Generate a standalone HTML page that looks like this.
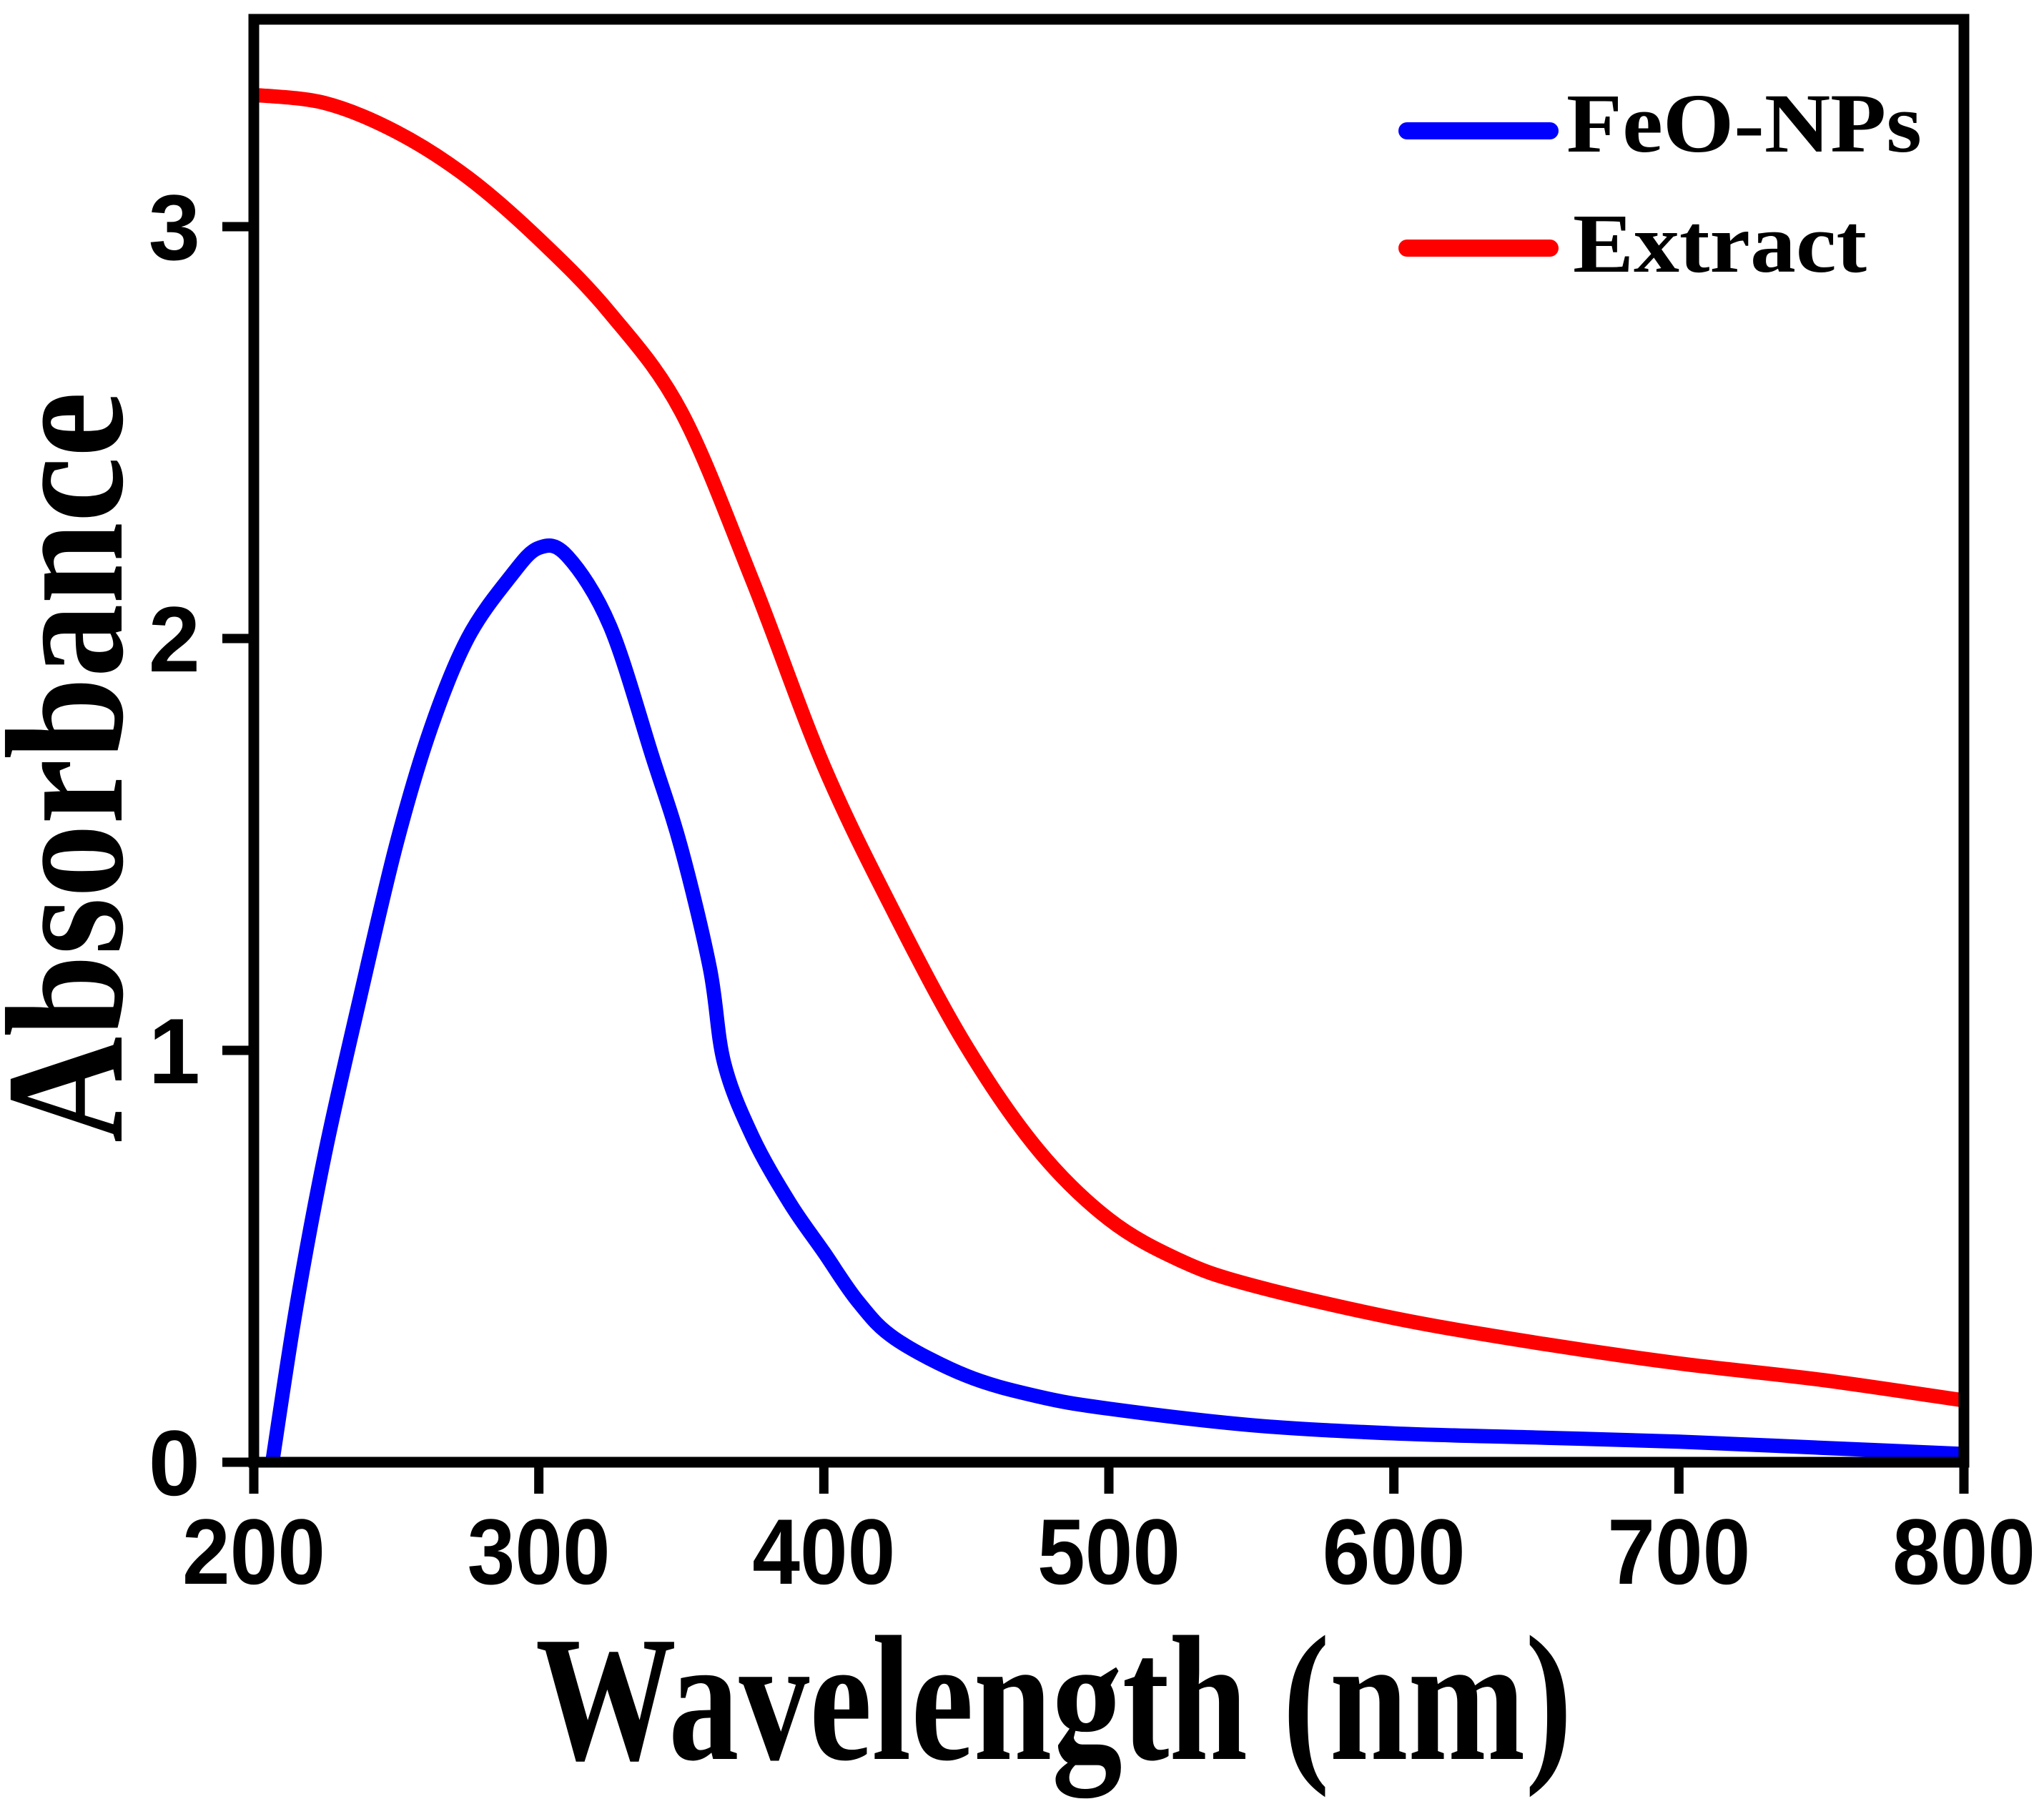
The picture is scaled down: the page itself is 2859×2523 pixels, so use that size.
<!DOCTYPE html>
<html><head><meta charset="utf-8"><style>
html,body{margin:0;padding:0;background:#fff;}
svg{display:block;}
.serif{font-family:"Liberation Serif","Times New Roman",serif;font-weight:bold;}
.sans{font-family:"Liberation Sans",Arial,sans-serif;font-weight:bold;}
</style></head><body>
<svg id="chart" width="2859" height="2523" viewBox="0 0 2859 2523" xmlns="http://www.w3.org/2000/svg">
<rect width="2859" height="2523" fill="#fff"/>
<g id="series"></g>
<rect x="355" y="27" width="2392" height="2018" fill="none" stroke="#000" stroke-width="15"/>
<g id="ticks"></g>
<text class="serif" x="749" y="2460" font-size="250" textLength="1450" lengthAdjust="spacingAndGlyphs">Wavelength (nm)</text>
<text class="serif" transform="translate(170,1073) rotate(-90)" text-anchor="middle" font-size="235" textLength="1050" lengthAdjust="spacingAndGlyphs">Absorbance</text>
<g>
<line x1="1968" y1="183" x2="2168" y2="183" stroke="#0000ff" stroke-width="24" stroke-linecap="round"/>
<text class="serif" x="2191" y="212" font-size="118" textLength="497" lengthAdjust="spacingAndGlyphs">FeO-NPs</text>
<line x1="1968" y1="347" x2="2168" y2="347" stroke="#ff0000" stroke-width="24" stroke-linecap="round"/>
<text class="serif" x="2200" y="380" font-size="118" textLength="411" lengthAdjust="spacingAndGlyphs">Extract</text>
</g>
</svg>
<script>
const xTicks = [200,300,400,500,600,700,800];
const yTicks = [0,1,2,3];
const extractX = [200,225,250,275,300,325,350,375,400,425,450,475,500,525,550,600,650,700,750,800];
const extractY = [3.32,3.30,3.23,3.12,2.97,2.79,2.55,2.14,1.69,1.33,1.01,0.76,0.59,0.49,0.43,0.35,0.29,0.24,0.20,0.15];
const feoX = [206.5,215,225,237,250,262,275,290,300,310,325,340,350,360,365,375,388,400,412,425,450,475,500,550,600,650,700,750,800];
const feoY = [0,0.38,0.75,1.12,1.5,1.78,2.0,2.15,2.22,2.2,2.03,1.71,1.49,1.2,0.97,0.79,0.63,0.51,0.39,0.30,0.21,0.16,0.13,0.09,0.07,0.06,0.05,0.035,0.02];

const X0=355, X1=2747, Y0=2045, YPER=576;
function sx(v){return X0+(v-200)/600*(X1-X0);}
function sy(v){return Y0-v*YPER;}
const NS='http://www.w3.org/2000/svg';
const series=document.getElementById('series');
function smoothPath(xs,ys){
  const p=xs.map((x,i)=>[sx(x),sy(ys[i])]);
  let d='M'+p[0][0]+' '+p[0][1];
  for(let i=0;i<p.length-1;i++){
    const p0=p[i-1]||p[i],p1=p[i],p2=p[i+1],p3=p[i+2]||p2;
    const c1x=p1[0]+(p2[0]-p0[0])/6,c1y=p1[1]+(p2[1]-p0[1])/6;
    const c2x=p2[0]-(p3[0]-p1[0])/6,c2y=p2[1]-(p3[1]-p1[1])/6;
    d+=' C'+c1x+' '+c1y+' '+c2x+' '+c2y+' '+p2[0]+' '+p2[1];
  }
  return d;
}
const red=document.createElementNS(NS,'path');


red.setAttribute('d',smoothPath(extractX,extractY));
red.setAttribute('fill','none');red.setAttribute('stroke','#ff0000');red.setAttribute('stroke-width','20');
series.appendChild(red);
const blue=document.createElementNS(NS,'path');


blue.setAttribute('d',smoothPath(feoX,feoY));
blue.setAttribute('fill','none');blue.setAttribute('stroke','#0000ff');blue.setAttribute('stroke-width','20');
series.appendChild(blue);

const ticks=document.getElementById('ticks');
xTicks.forEach(v=>{
  const l=document.createElementNS(NS,'line');
  
  
  l.setAttribute('x1',sx(v));l.setAttribute('x2',sx(v));l.setAttribute('y1',Y0);l.setAttribute('y2',Y0+44);
  l.setAttribute('stroke','#000');l.setAttribute('stroke-width','13');
  ticks.appendChild(l);
  const t=document.createElementNS(NS,'text');
  
  
  t.setAttribute('x',sx(v));t.setAttribute('y',2215);
  t.setAttribute('text-anchor','middle');t.setAttribute('class','sans');
  t.setAttribute('font-size','130');
  t.setAttribute('textLength','200');t.setAttribute('lengthAdjust','spacingAndGlyphs');
  t.textContent=v;ticks.appendChild(t);
});
yTicks.forEach(v=>{
  const l=document.createElementNS(NS,'line');
  
  
  l.setAttribute('x1',X0-44);l.setAttribute('x2',X0);l.setAttribute('y1',sy(v));l.setAttribute('y2',sy(v));
  l.setAttribute('stroke','#000');l.setAttribute('stroke-width','13');
  ticks.appendChild(l);
  const t=document.createElementNS(NS,'text');
  
  
  t.setAttribute('x',280);t.setAttribute('y',sy(v)+46);
  t.setAttribute('text-anchor','end');t.setAttribute('class','sans');
  t.setAttribute('font-size','130');
  t.textContent=v;ticks.appendChild(t);
});
</script>
</body></html>
